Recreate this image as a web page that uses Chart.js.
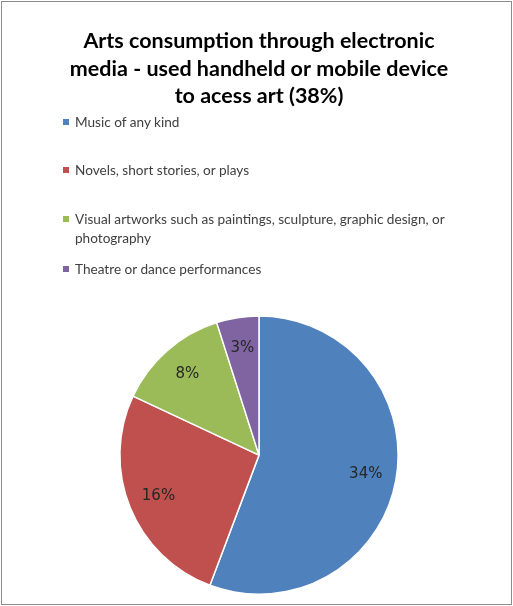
<!DOCTYPE html>
<html>
<head>
<meta charset="utf-8">
<script src="https://cdn.jsdelivr.net/npm/chart.js@4"></script>
<style>
  body { margin: 0; background: #fff; }
  #wrap { position: relative; width: 513px; height: 606px; }
  #frame { position: absolute; left: 1px; top: 1px; width: 509px; height: 602px; border: 1px solid #8c8c8c; pointer-events: none; }
  #legend { position: absolute; left: 63px; top: 113px; font-family: Lato, "Open Sans", sans-serif; font-size: 13.6px; color: #404040; }
  .item { position: absolute; left: 0; width: 430px; }
  .box { position: absolute; left: 0; top: 6px; width: 6px; height: 6px; }
  .txt { position: absolute; left: 12px; width: 400px; line-height: 19px; }
</style>
</head>
<body>
<div id="wrap">
  <canvas id="grafica" width="513" height="606"></canvas>
  <div id="legend"></div>
  <div id="frame"></div>
</div>
<script>
// datos del grafico
var categorias = ['Music of any kind', 'Novels, short stories, or plays', 'Visual artworks such as paintings, sculpture, graphic design, or photography', 'Theatre or dance performances'];
var valores = [34, 16, 8, 3];
var colores = ['#4F81BD', '#C0504D', '#9BBB59', '#8064A2'];
var titulo = ['Arts consumption through electronic', 'media - used handheld or mobile device', 'to acess art (38%)'];

// leyenda en html
var legendTops = [0, 48, 97, 147];
var legend = document.getElementById('legend');
categorias.forEach(function (c, i) {
  var d = document.createElement('div');
  d.className = 'item';
  d.style.top = legendTops[i] + 'px';
  d.innerHTML = '<span class="box" style="background:' + colores[i] + '"></span><span class="txt">' + c + '</span>';
  legend.appendChild(d);
});

// etiquetas de porcentaje sobre cada porcion
const etiquetas = {
  id: 'etiquetas',
  afterDatasetsDraw(chart) {
    const ctx = chart.ctx;
    const meta = chart.getDatasetMeta(0);
    ctx.save();
    ctx.font = '15px "DejaVu Sans", sans-serif';
    ctx.fillStyle = '#262626';
    ctx.textAlign = 'center';
    ctx.textBaseline = 'middle';
    meta.data.forEach(function (arc, i) {
      const mid = (arc.startAngle + arc.endAngle) / 2;
      const r = arc.outerRadius * 0.78;
      ctx.fillText(valores[i] + '%', arc.x + Math.cos(mid) * r, arc.y + Math.sin(mid) * r);
    });
    ctx.restore();
  }
};

const ctx = document.getElementById('grafica').getContext('2d');
new Chart(ctx, {
  type: 'pie',
  data: {
    labels: categorias,
    datasets: [{
      data: valores,
      backgroundColor: colores,
      borderColor: '#ffffff',
      borderWidth: 1.5
    }]
  },
  options: {
    responsive: false,
    animation: false,
    layout: { padding: { left: 5, right: 0, top: 0, bottom: 11 } },
    plugins: {
      legend: { display: false },
      tooltip: { enabled: false },
      title: {
        display: true,
        text: titulo,
        color: '#000000',
        font: { family: 'Lato, "Open Sans", sans-serif', size: 21.5, weight: 'bold', lineHeight: 1.26 },
        padding: { top: 28, bottom: 206 }
      }
    }
  },
  plugins: [etiquetas]
});
</script>
</body>
</html>
